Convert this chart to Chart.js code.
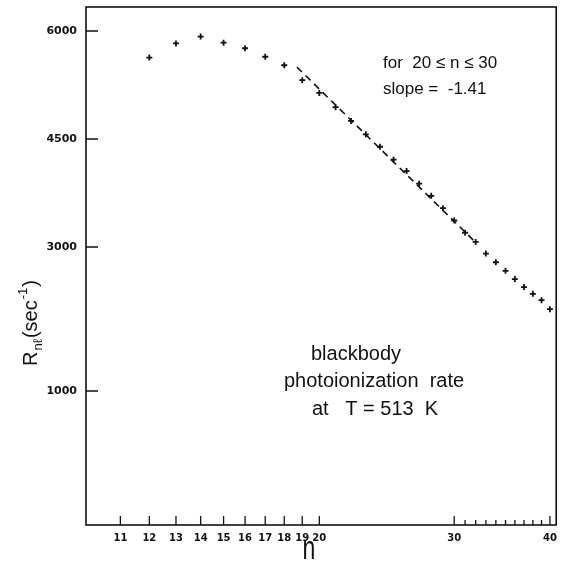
<!DOCTYPE html>
<html>
<head>
<meta charset="utf-8">
<script src="https://cdn.jsdelivr.net/npm/chart.js@4.4.1/dist/chart.umd.min.js"></script>
<style>
  body { margin: 0; background: #fff; }
  #wrap { width: 562px; height: 561px; }
</style>
</head>
<body>
<div id="wrap"><canvas id="myChart" width="562" height="561"></canvas></div>
<script>
// principal quantum number n and the rate R_nl (sec^-1)
const nValues = [12, 13, 14, 15, 16, 17, 18, 19, 20, 21, 22, 23, 24, 25, 26,
  27, 28, 29, 30, 31, 32, 33, 34, 35, 36, 37, 38, 39, 40];
const rates = [5631, 5827, 5922, 5838, 5760, 5642, 5524, 5317, 5140, 4942, 4751,
  4565, 4392, 4213, 4055, 3880, 3710, 3539, 3368, 3198, 3071, 2909, 2788, 2669,
  2555, 2444, 2350, 2262, 2137];

// dashed fit line (20 <= n <= 30, slope -1.41), its two ends
const fitN = [18.7, 32];
const fitRates = [5498, 3063];

// axis ticks
const yTicks = [1000, 3000, 4500, 6000];
const xMajor = [11, 12, 13, 14, 15, 16, 17, 18, 19, 20, 30, 40];
const xMinor = [31, 32, 33, 34, 35, 36, 37, 38, 39];

const ink = "#111";

const decor = {
  id: "decor",
  afterDraw(chart) {
    const ctx = chart.ctx;
    const a = chart.chartArea;
    const x = chart.scales.x;
    const y = chart.scales.y;
    ctx.save();
    ctx.strokeStyle = ink;
    ctx.fillStyle = ink;
    ctx.lineWidth = 1.6;
    ctx.strokeRect(a.left, a.top, a.right - a.left, a.bottom - a.top);

    // inward tick marks
    ctx.lineWidth = 1.3;
    ctx.beginPath();
    yTicks.forEach(v => {
      const py = y.getPixelForValue(v);
      ctx.moveTo(a.left, py);
      ctx.lineTo(a.left + 12, py);
    });
    xMajor.forEach(v => {
      const px = x.getPixelForValue(v);
      ctx.moveTo(px, a.bottom);
      ctx.lineTo(px, a.bottom - 9);
    });
    xMinor.forEach(v => {
      const px = x.getPixelForValue(v);
      ctx.moveTo(px, a.bottom);
      ctx.lineTo(px, a.bottom - 5);
    });
    ctx.stroke();

    // notes inside the plot
    ctx.textBaseline = "alphabetic";
    ctx.textAlign = "left";
    ctx.font = "17px 'Liberation Sans'";
    ctx.fillText("for  20 \u2264 n \u2264 30", 383, 68);
    ctx.fillText("slope =  -1.41", 383, 94);
    ctx.font = "20px 'Liberation Sans'";
    ctx.fillText("blackbody", 311, 360);
    ctx.fillText("photoionization  rate", 284, 387);
    ctx.fillText("at   T = 513  K", 312, 415);

    // x title
    ctx.save();
    ctx.translate(309, 559);
    ctx.scale(0.7, 1);
    ctx.textAlign = "center";
    ctx.font = "33px 'Liberation Sans'";
    ctx.fillText("n", 0, 0);
    ctx.restore();

    // y title with sub/superscripts
    ctx.save();
    ctx.translate(37, 366);
    ctx.rotate(-Math.PI / 2);
    let cx = 0;
    ctx.font = "20px 'Liberation Sans'";
    ctx.fillText("R", cx, 0);
    cx += ctx.measureText("R").width + 1;
    ctx.font = "13px 'Liberation Sans'";
    ctx.fillText("n\u2113", cx, 5);
    cx += ctx.measureText("n\u2113").width + 1;
    ctx.font = "20px 'Liberation Sans'";
    ctx.fillText("(sec", cx, 0);
    cx += ctx.measureText("(sec").width + 1;
    ctx.font = "13px 'Liberation Sans'";
    ctx.fillText("-1", cx, -10);
    cx += ctx.measureText("-1").width + 1;
    ctx.font = "20px 'Liberation Sans'";
    ctx.fillText(")", cx, 0);
    ctx.restore();

    ctx.restore();
  }
};

new Chart("myChart", {
  type: "scatter",
  data: {
    datasets: [
      {
        data: nValues.map((n, i) => ({ x: n, y: rates[i] })),
        pointStyle: "cross",
        pointRadius: 3,
        borderWidth: 1.8,
        borderColor: ink,
        backgroundColor: ink
      },
      {
        data: fitN.map((n, i) => ({ x: n, y: fitRates[i] })),
        showLine: true,
        pointRadius: 0,
        borderColor: ink,
        borderWidth: 1.6,
        borderDash: [7, 5]
      }
    ]
  },
  options: {
    responsive: false,
    animation: false,
    layout: { padding: { top: 7, right: 3, left: 0, bottom: 0 } },
    plugins: { legend: { display: false }, tooltip: { enabled: false } },
    scales: {
      x: {
        type: "logarithmic",
        min: 9.92,
        max: 40.76,
        grid: { display: false, drawTicks: false },
        border: { display: false },
        afterFit(scale) {
          scale.height = 36;
          scale.paddingLeft = 0;
          scale.paddingRight = 0;
        },
        afterBuildTicks(scale) {
          scale.ticks = xMajor.map(v => ({ value: v }));
        },
        ticks: {
          autoSkip: false,
          maxRotation: 0,
          padding: 7,
          color: ink,
          font: { family: "DejaVu Sans", size: 10, weight: "bold" },
          callback: v => String(v)
        }
      },
      y: {
        type: "linear",
        min: -861,
        max: 6333,
        grid: { display: false, drawTicks: false },
        border: { display: false },
        afterFit(scale) {
          scale.width = 86;
          scale.paddingTop = 0;
          scale.paddingBottom = 0;
        },
        afterBuildTicks(scale) {
          scale.ticks = yTicks.map(v => ({ value: v }));
        },
        ticks: {
          padding: 9,
          color: ink,
          font: { family: "DejaVu Sans", size: 11, weight: "bold" },
          callback: v => String(v)
        }
      }
    }
  },
  plugins: [decor]
});
</script>
</body>
</html>
